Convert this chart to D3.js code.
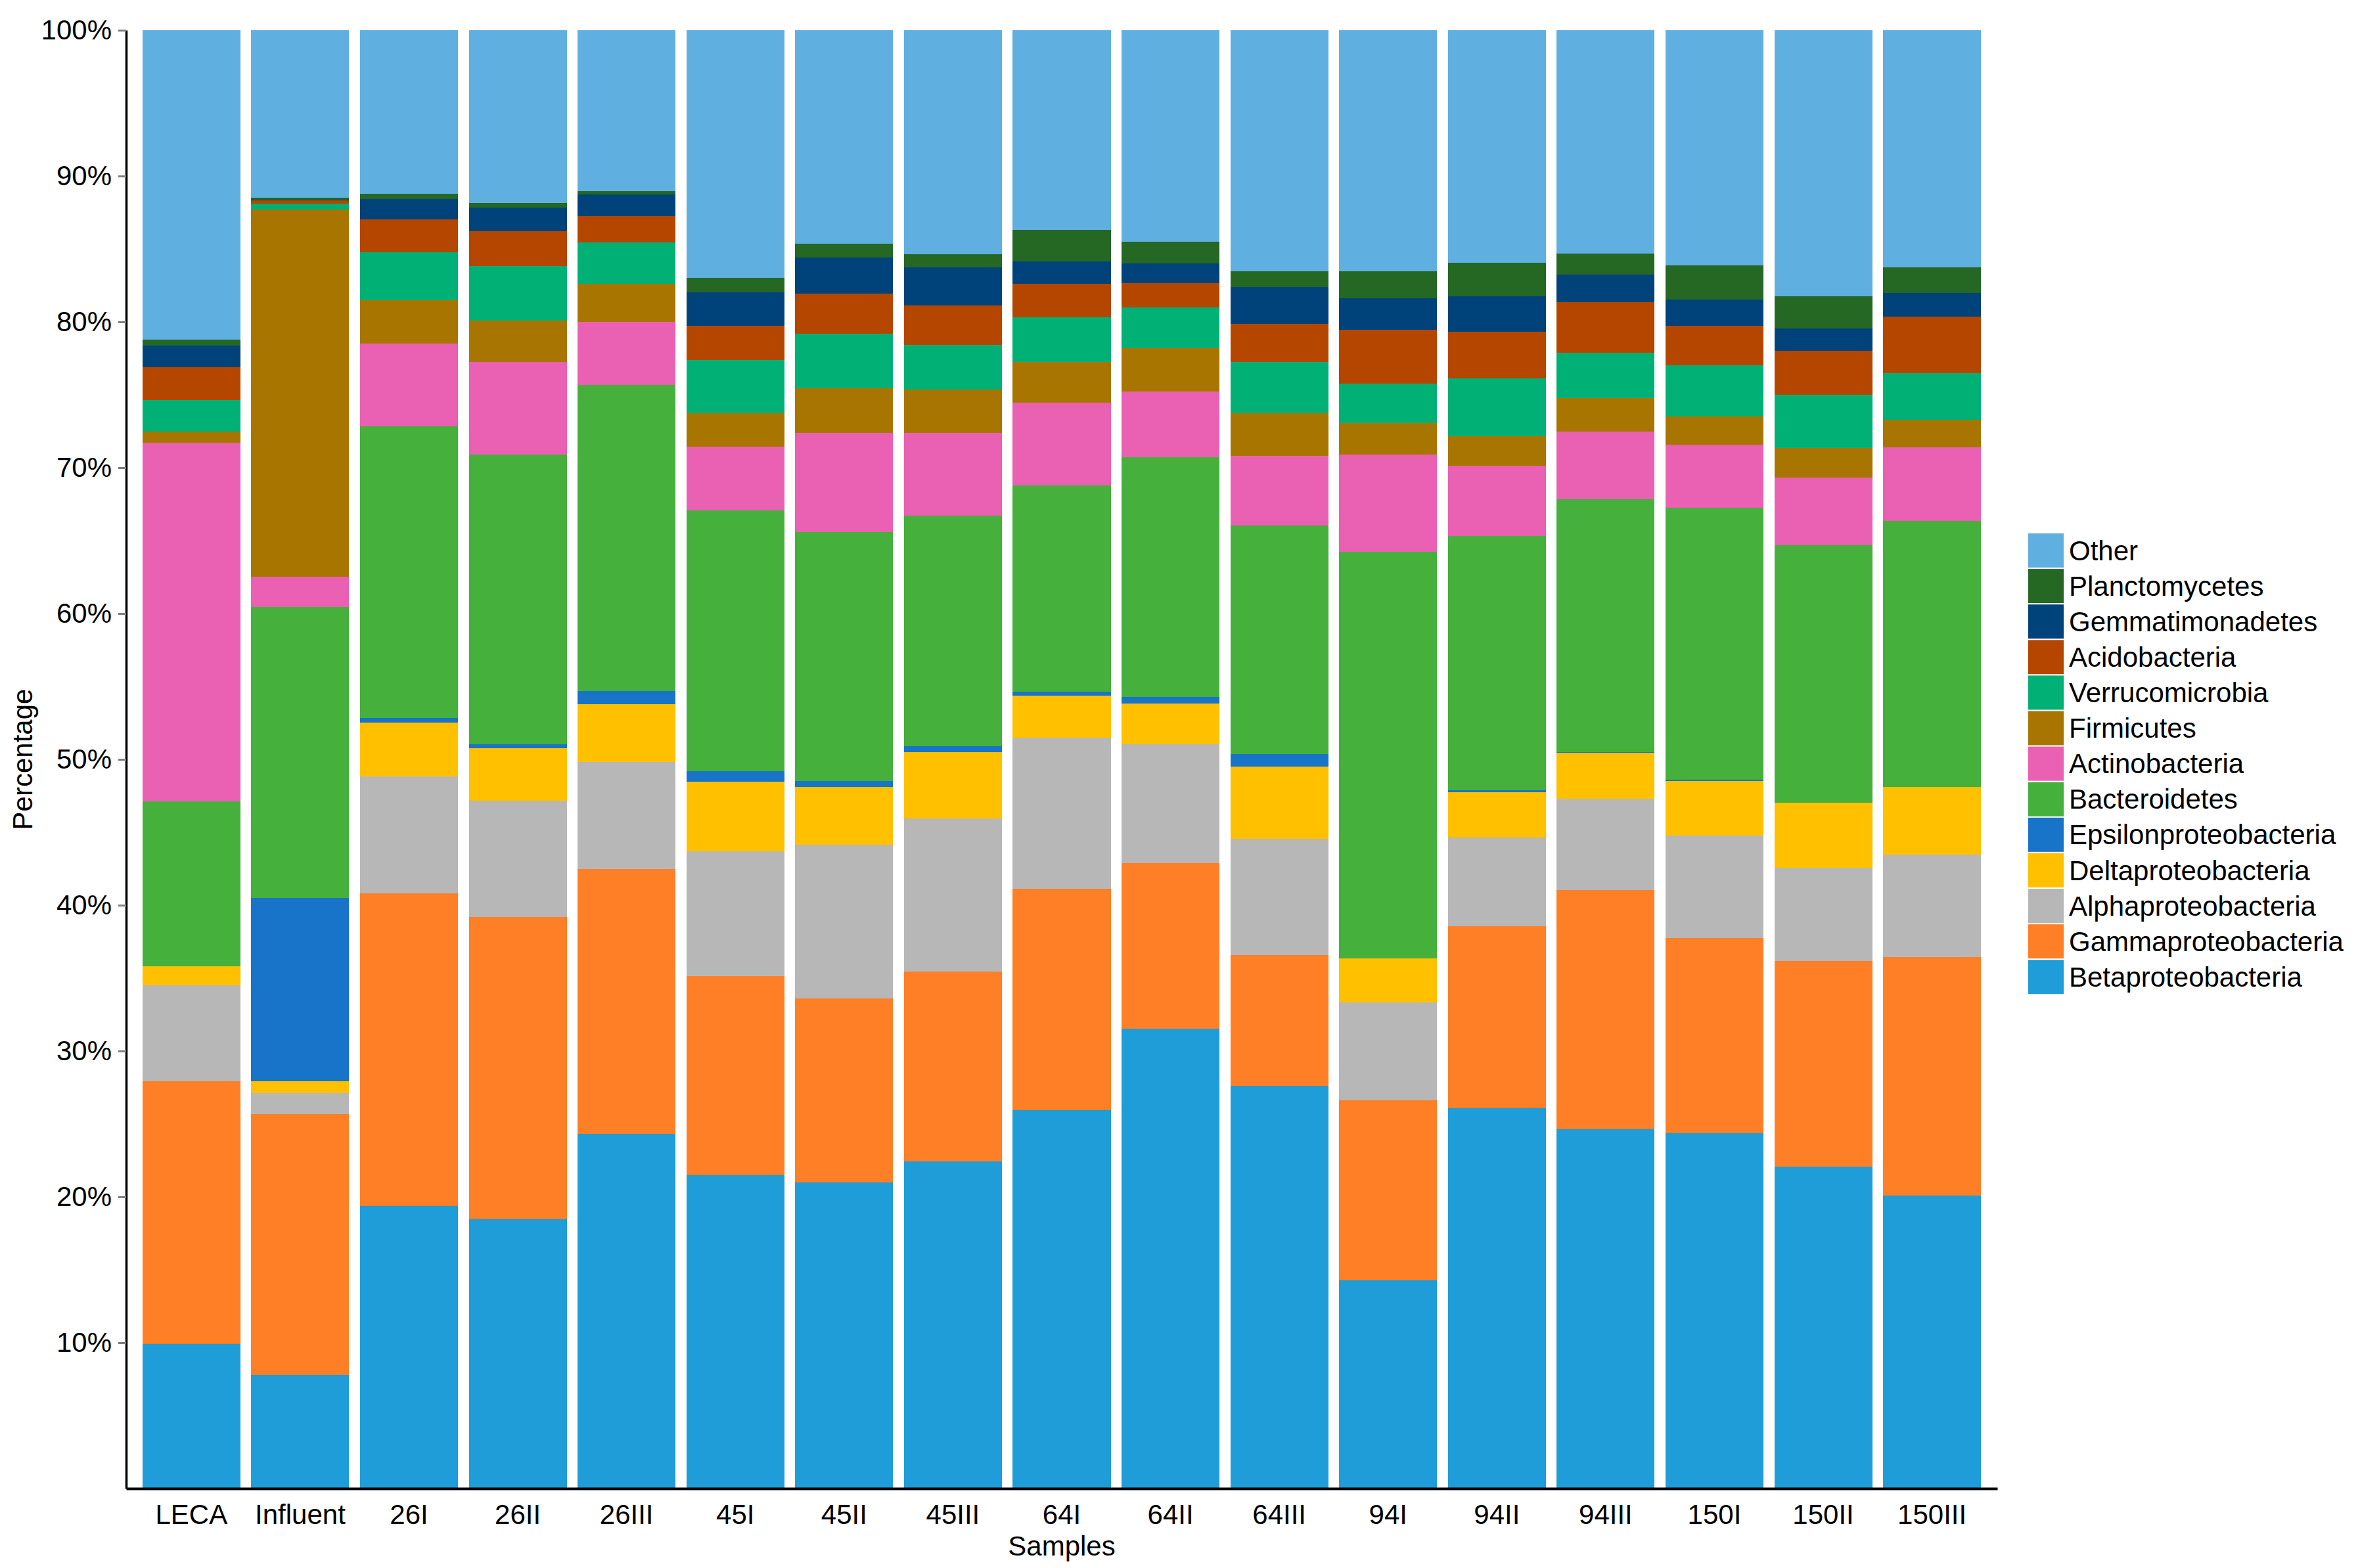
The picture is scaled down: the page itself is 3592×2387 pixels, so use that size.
<!DOCTYPE html>
<html>
<head>
<meta charset="utf-8">
<script src="https://cdn.jsdelivr.net/npm/d3@7"></script>
<style>
  body { margin: 0; background: #fff; }
  text { font-family: "Liberation Sans", Arial, sans-serif; }
</style>
</head>
<body>
<svg id="chart"></svg>
<script>
// samples along the x axis
const samples = ["LECA", "Influent", "26I", "26II", "26III", "45I", "45II", "45III",
                 "64I", "64II", "64III", "94I", "94II", "94III", "150I", "150II", "150III"];

// taxa, bottom of the stack first
const taxa = ["Betaproteobacteria", "Gammaproteobacteria", "Alphaproteobacteria",
              "Deltaproteobacteria", "Epsilonproteobacteria", "Bacteroidetes",
              "Actinobacteria", "Firmicutes", "Verrucomicrobia", "Acidobacteria",
              "Gemmatimonadetes", "Planctomycetes", "Other"];

const taxaColors = ["#1e9dd8", "#ff7f27", "#b7b7b7", "#ffc000", "#1874c8", "#45b03c",
                    "#ea60b2", "#a87500", "#00b075", "#b54600", "#00437a", "#246824", "#5fb0e0"];

// percentages per sample (same order as samples)
const betaproteobacteria    = [9.91, 7.78, 19.36, 18.46, 24.32, 21.50, 20.98, 22.43, 25.94, 31.53, 27.60, 14.29, 26.08, 24.63, 24.36, 22.08, 20.08];
const gammaproteobacteria   = [18.03, 17.89, 21.44, 20.72, 18.17, 13.65, 12.62, 13.03, 15.17, 11.34, 8.96, 12.34, 12.48, 16.41, 13.37, 14.10, 16.38];
const alphaproteobacteria   = [6.55, 1.44, 8.03, 8.00, 7.31, 8.55, 10.54, 10.48, 10.38, 8.17, 8.00, 6.69, 6.07, 6.27, 7.03, 6.38, 6.99];
const deltaproteobacteria   = [1.31, 0.83, 3.68, 3.58, 3.98, 4.75, 3.97, 4.55, 2.89, 2.78, 4.93, 3.03, 3.10, 3.15, 3.76, 4.48, 4.66];
const epsilonproteobacteria = [0, 12.55, 0.34, 0.28, 0.90, 0.73, 0.41, 0.41, 0.26, 0.45, 0.86, 0, 0.14, 0.03, 0.07, 0, 0];
const bacteroidetes         = [11.31, 19.94, 19.98, 19.85, 20.99, 17.90, 17.06, 15.80, 14.15, 16.47, 15.68, 27.89, 17.45, 17.33, 18.64, 17.65, 18.22];
const actinobacteria        = [24.62, 2.09, 5.67, 6.35, 4.33, 4.37, 6.80, 5.68, 5.68, 4.48, 4.78, 6.65, 4.82, 4.67, 4.33, 4.63, 5.08];
const firmicutes            = [0.77, 25.17, 2.99, 2.83, 2.61, 2.27, 3.06, 2.99, 2.76, 2.99, 2.91, 2.16, 2.02, 2.28, 1.94, 2.01, 1.87];
const verrucomicrobia       = [2.15, 0.43, 3.29, 3.74, 2.84, 3.66, 3.74, 3.06, 3.07, 2.80, 3.51, 2.73, 3.95, 3.10, 3.51, 3.67, 3.21];
const acidobacteria         = [2.23, 0.23, 2.24, 2.39, 1.79, 2.36, 2.76, 2.69, 2.31, 1.64, 2.62, 3.70, 3.22, 3.47, 2.73, 3.02, 3.88];
const gemmatimonadetes      = [1.50, 0.03, 1.42, 1.64, 1.50, 2.28, 2.47, 2.61, 1.53, 1.35, 2.54, 2.12, 2.42, 1.91, 1.79, 1.53, 1.61];
const planctomycetes        = [0.41, 0.12, 0.33, 0.30, 0.22, 1.00, 0.97, 0.90, 2.17, 1.49, 1.08, 1.87, 2.32, 1.42, 2.35, 2.20, 1.75];
const other                 = [21.21, 11.50, 11.23, 11.86, 11.04, 16.98, 14.62, 15.37, 13.69, 14.51, 16.53, 16.53, 15.93, 15.33, 16.12, 18.25, 16.27];

const yTicks = [10, 20, 30, 40, 50, 60, 70, 80, 90, 100];

const series = [betaproteobacteria, gammaproteobacteria, alphaproteobacteria, deltaproteobacteria,
                epsilonproteobacteria, bacteroidetes, actinobacteria, firmicutes, verrucomicrobia,
                acidobacteria, gemmatimonadetes, planctomycetes, other];

// rows for d3.stack
const table = samples.map((s, i) => {
    let row = { sample: s };
    taxa.forEach((t, j) => row[t] = series[j][i]);
    return row;
});

const width = 3592;
const height = 2387;
const margin = ({ top: 46, right: 552, bottom: 121, left: 192 });
const fontSize = 42;

const svg = d3.select("#chart")
    .attr("width", width)
    .attr("height", height);

const xScale = d3.scaleBand()
    .domain(samples)
    .range([margin.left, width - margin.right])
    .paddingInner(0.1)
    .paddingOuter(0.15);

const yScale = d3.scaleLinear()
    .domain([0, 100])
    .range([height - margin.bottom, margin.top]);

const color = d3.scaleOrdinal().domain(taxa).range(taxaColors);

const stacked = d3.stack().keys(taxa)(table);

svg.append("g")
    .selectAll("g")
    .data(stacked)
    .join("g")
    .attr("fill", d => color(d.key))
    .selectAll("rect")
    .data(d => d)
    .join("rect")
    .attr("x", d => xScale(d.data.sample))
    .attr("width", xScale.bandwidth())
    .attr("y", d => yScale(d[1]))
    .attr("height", d => yScale(d[0]) - yScale(d[1]))
    .attr("shape-rendering", "crispEdges");

// y axis
const yAxis = svg.append("g")
    .attr("transform", `translate(${margin.left},0)`)
    .call(d3.axisLeft(yScale)
        .tickValues(yTicks)
        .tickFormat(d => d + "%")
        .tickSize(12)
        .tickSizeOuter(0)
        .tickPadding(10));
yAxis.select(".domain").attr("stroke", "#000").attr("stroke-width", 3.5);
yAxis.selectAll(".tick line").attr("stroke", "#7f7f7f").attr("stroke-width", 3);
yAxis.selectAll(".tick text").attr("font-size", fontSize).attr("fill", "#000")
    .style("font-family", '"Liberation Sans", Arial, sans-serif');

// x axis
const xAxis = svg.append("g")
    .attr("transform", `translate(0,${height - margin.bottom})`)
    .call(d3.axisBottom(xScale)
        .tickSize(0)
        .tickSizeOuter(0)
        .tickPadding(24));
xAxis.select(".domain").attr("stroke", "#000").attr("stroke-width", 4);
xAxis.selectAll(".tick text").attr("font-size", fontSize).attr("fill", "#000")
    .style("font-family", '"Liberation Sans", Arial, sans-serif');

// axis titles
svg.append("text")
    .attr("x", (margin.left + width - margin.right) / 2)
    .attr("y", 2368)
    .attr("text-anchor", "middle")
    .attr("font-size", fontSize)
    .text("Samples");

svg.append("text")
    .attr("transform", `translate(49,${(margin.top + height - margin.bottom) / 2}) rotate(-90)`)
    .attr("text-anchor", "middle")
    .attr("font-size", fontSize)
    .text("Percentage");

// legend, top of the stack first
const legendTaxa = taxa.slice().reverse();
const legend = svg.append("g")
    .attr("transform", "translate(3087,812)");

const items = legend.selectAll("g")
    .data(legendTaxa)
    .join("g")
    .attr("transform", (d, i) => `translate(0,${i * 54.1})`);

items.append("rect")
    .attr("width", 54)
    .attr("height", 52)
    .attr("fill", d => color(d));

items.append("text")
    .attr("x", 62)
    .attr("y", 26)
    .attr("dy", "0.35em")
    .attr("font-size", fontSize)
    .text(d => d);
</script>
</body>
</html>
